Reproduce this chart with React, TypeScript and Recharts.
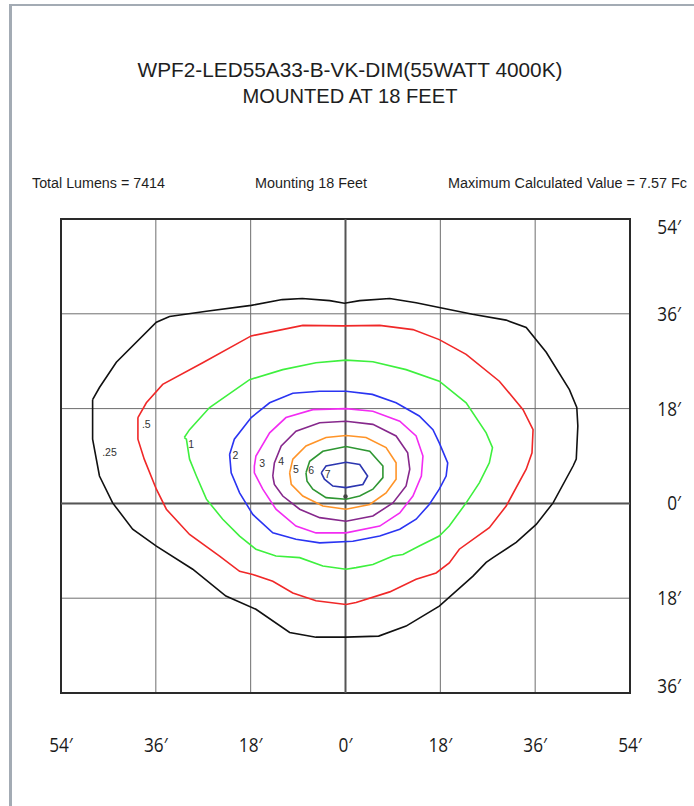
import React from "react";
import {
  ScatterChart,
  Scatter,
  XAxis,
  YAxis,
  CartesianGrid,
  ReferenceLine,
  ReferenceArea,
} from "recharts";

type Pt = { x: number; y: number };

const xTicks = [-54, -36, -18, 0, 18, 36, 54];
const yTicks = [54, 36, 18, 0, -18, -36];

// isofootcandle contours, feet from the luminaire
const fc025: Pt[] = [
  { x: -48.0, y: 19.7 }, { x: -46.7, y: 22.0 }, { x: -43.5, y: 26.8 }, { x: -35.9, y: 34.4 },
  { x: -33.4, y: 35.5 }, { x: -26.4, y: 36.5 }, { x: -17.9, y: 37.6 }, { x: -12.0, y: 38.7 },
  { x: -8.2, y: 38.9 }, { x: -3.0, y: 38.5 }, { x: -0.2, y: 38.0 }, { x: 2.7, y: 38.5 },
  { x: 8.4, y: 38.9 }, { x: 13.4, y: 38.1 }, { x: 17.8, y: 37.2 }, { x: 24.1, y: 35.9 },
  { x: 30.5, y: 34.8 }, { x: 34.3, y: 33.4 }, { x: 38.1, y: 28.7 }, { x: 42.5, y: 21.6 },
  { x: 43.9, y: 18.2 }, { x: 44.1, y: 14.7 }, { x: 43.8, y: 8.4 }, { x: 43.2, y: 7.1 },
  { x: 39.4, y: 0.1 }, { x: 36.2, y: -4.0 }, { x: 32.4, y: -7.4 }, { x: 28.0, y: -10.3 },
  { x: 26.7, y: -11.2 }, { x: 24.2, y: -13.8 }, { x: 17.8, y: -19.5 }, { x: 11.5, y: -23.3 },
  { x: 6.3, y: -25.2 }, { x: 0.1, y: -25.4 }, { x: -5.6, y: -25.4 }, { x: -10.6, y: -24.5 },
  { x: -17.0, y: -20.1 }, { x: -22.7, y: -17.6 }, { x: -29.0, y: -12.5 }, { x: -35.9, y: -8.1 },
  { x: -40.4, y: -4.9 }, { x: -44.2, y: 0.1 }, { x: -46.7, y: 5.2 }, { x: -48.0, y: 12.2 },
];

const fc05: Pt[] = [
  { x: -39.4, y: 16.3 }, { x: -37.8, y: 19.1 }, { x: -34.7, y: 22.6 }, { x: -27.1, y: 26.7 },
  { x: -17.9, y: 31.8 }, { x: -8.1, y: 33.8 }, { x: -0.5, y: 33.7 }, { x: 6.5, y: 33.8 },
  { x: 12.8, y: 33.0 }, { x: 17.8, y: 31.1 }, { x: 22.9, y: 28.3 }, { x: 29.2, y: 23.2 },
  { x: 33.7, y: 17.8 }, { x: 35.6, y: 14.0 }, { x: 35.4, y: 9.6 }, { x: 34.3, y: 6.5 },
  { x: 30.5, y: -0.5 }, { x: 27.3, y: -4.6 }, { x: 21.6, y: -8.7 }, { x: 19.7, y: -11.3 },
  { x: 17.2, y: -13.2 }, { x: 13.4, y: -14.4 }, { x: 8.4, y: -16.8 }, { x: 2.0, y: -18.8 },
  { x: 0.1, y: -19.2 }, { x: -5.6, y: -18.5 }, { x: -10.0, y: -17.0 }, { x: -13.8, y: -14.8 },
  { x: -17.6, y: -13.5 }, { x: -20.1, y: -12.9 }, { x: -23.9, y: -10.0 }, { x: -29.6, y: -5.9 },
  { x: -34.0, y: -1.1 }, { x: -35.9, y: 2.7 }, { x: -38.2, y: 8.4 }, { x: -39.4, y: 12.2 },
];

const fc1: Pt[] = [
  { x: -30.6, y: 12.5 }, { x: -29.6, y: 14.0 }, { x: -25.8, y: 18.2 }, { x: -18.2, y: 23.5 },
  { x: -11.9, y: 25.4 }, { x: -5.6, y: 26.7 }, { x: 0.1, y: 27.2 }, { x: 5.2, y: 26.9 },
  { x: 11.5, y: 25.4 }, { x: 17.8, y: 23.2 }, { x: 22.9, y: 19.1 }, { x: 26.7, y: 13.4 },
  { x: 27.9, y: 10.6 }, { x: 27.3, y: 7.7 }, { x: 25.4, y: 3.9 }, { x: 22.9, y: 0.1 },
  { x: 19.7, y: -4.3 }, { x: 17.8, y: -6.2 }, { x: 14.0, y: -8.1 }, { x: 10.9, y: -9.7 },
  { x: 9.0, y: -10.0 }, { x: 5.2, y: -11.6 }, { x: 2.0, y: -12.2 }, { x: 0.1, y: -12.5 },
  { x: -4.3, y: -11.9 }, { x: -8.7, y: -10.3 }, { x: -13.2, y: -10.0 }, { x: -17.0, y: -8.7 },
  { x: -20.1, y: -6.2 }, { x: -23.3, y: -3.0 }, { x: -26.4, y: 0.8 }, { x: -28.3, y: 5.2 },
  { x: -29.6, y: 8.4 }, { x: -30.2, y: 12.2 },
];

const fc2: Pt[] = [
  { x: -22.0, y: 9.3 }, { x: -21.1, y: 12.2 }, { x: -17.9, y: 16.3 }, { x: -14.4, y: 19.1 },
  { x: -10.0, y: 20.9 }, { x: -4.9, y: 21.3 }, { x: 0.1, y: 21.3 }, { x: 5.1, y: 20.7 },
  { x: 9.6, y: 19.1 }, { x: 14.0, y: 16.6 }, { x: 16.6, y: 14.0 }, { x: 17.8, y: 11.5 },
  { x: 19.4, y: 7.7 }, { x: 19.1, y: 5.2 }, { x: 17.8, y: 2.7 }, { x: 15.9, y: -0.2 },
  { x: 13.4, y: -3.0 }, { x: 10.3, y: -4.9 }, { x: 6.5, y: -6.2 }, { x: 1.4, y: -7.2 },
  { x: -4.9, y: -7.5 }, { x: -9.4, y: -6.8 }, { x: -13.8, y: -5.6 }, { x: -17.6, y: -2.1 },
  { x: -20.1, y: 2.0 }, { x: -21.7, y: 5.8 },
];

const fc3: Pt[] = [
  { x: -17.3, y: 7.1 }, { x: -17.0, y: 9.0 }, { x: -14.4, y: 13.4 }, { x: -11.3, y: 16.3 },
  { x: -6.2, y: 17.8 }, { x: 0.1, y: 18.0 }, { x: 5.2, y: 17.5 }, { x: 10.3, y: 15.6 },
  { x: 13.4, y: 12.8 }, { x: 14.7, y: 9.0 }, { x: 14.4, y: 5.2 }, { x: 12.8, y: 1.4 },
  { x: 10.3, y: -1.8 }, { x: 6.5, y: -4.3 }, { x: 0.1, y: -5.6 }, { x: -5.6, y: -5.6 },
  { x: -9.4, y: -4.3 }, { x: -13.2, y: -1.1 }, { x: -15.7, y: 2.7 }, { x: -17.3, y: 5.8 },
];

const fc4: Pt[] = [
  { x: -13.8, y: 5.2 }, { x: -13.5, y: 7.7 }, { x: -12.2, y: 10.9 }, { x: -9.4, y: 13.7 },
  { x: -4.9, y: 15.3 }, { x: 0.1, y: 15.6 }, { x: 5.2, y: 15.0 }, { x: 9.6, y: 12.8 },
  { x: 11.8, y: 9.6 }, { x: 12.2, y: 6.5 }, { x: 11.5, y: 3.3 }, { x: 9.0, y: 0.1 },
  { x: 5.2, y: -2.4 }, { x: 0.1, y: -3.4 }, { x: -4.9, y: -2.7 }, { x: -8.7, y: -1.1 },
  { x: -11.9, y: 1.4 }, { x: -13.5, y: 3.6 },
];

const fc5: Pt[] = [
  { x: -10.6, y: 5.8 }, { x: -10.0, y: 8.4 }, { x: -7.5, y: 10.9 }, { x: -3.7, y: 12.5 },
  { x: 0.1, y: 12.9 }, { x: 3.9, y: 12.5 }, { x: 7.7, y: 10.6 }, { x: 9.6, y: 7.7 },
  { x: 9.6, y: 4.6 }, { x: 7.7, y: 2.0 }, { x: 4.6, y: -0.2 }, { x: 0.1, y: -1.1 },
  { x: -4.3, y: -0.5 }, { x: -8.1, y: 1.4 }, { x: -10.3, y: 3.6 },
];

const fc6: Pt[] = [
  { x: -7.5, y: 5.8 }, { x: -6.8, y: 8.0 }, { x: -4.3, y: 9.9 }, { x: 0.1, y: 10.8 },
  { x: 4.6, y: 9.9 }, { x: 7.1, y: 7.1 }, { x: 7.1, y: 4.9 }, { x: 5.2, y: 2.7 },
  { x: 2.7, y: 1.4 }, { x: 0.1, y: 0.8 }, { x: -3.7, y: 1.1 }, { x: -6.2, y: 2.7 },
  { x: -7.3, y: 4.2 },
];

const fc7: Pt[] = [
  { x: -4.6, y: 5.8 }, { x: -3.7, y: 7.1 }, { x: 0.1, y: 7.8 }, { x: 2.7, y: 7.4 },
  { x: 4.2, y: 5.2 }, { x: 3.3, y: 3.6 }, { x: 0.1, y: 3.0 }, { x: -2.4, y: 3.3 },
  { x: -4.0, y: 4.6 },
];

const levelLabels = [
  { x: -44.8, y: 9.7, label: ".25" },
  { x: -37.8, y: 15.0, label: ".5" },
  { x: -29.3, y: 11.2, label: "1" },
  { x: -20.9, y: 9.1, label: "2" },
  { x: -15.8, y: 7.6, label: "3" },
  { x: -12.2, y: 8.0, label: "4" },
  { x: -9.4, y: 6.5, label: "5" },
  { x: -6.5, y: 6.3, label: "6" },
  { x: -3.4, y: 5.5, label: "7" },
];

const fixture = [{ x: 0, y: 1.3 }];

const contours = [
  { name: ".25", color: "#111111", data: fc025 },
  { name: ".5", color: "#f02828", data: fc05 },
  { name: "1", color: "#3ef03e", data: fc1 },
  { name: "2", color: "#2a34f2", data: fc2 },
  { name: "3", color: "#f22cf2", data: fc3 },
  { name: "4", color: "#86288c", data: fc4 },
  { name: "5", color: "#ff9428", data: fc5 },
  { name: "6", color: "#2e9632", data: fc6 },
  { name: "7", color: "#2c36b0", data: fc7 },
];

const titleFont = "'Open Sans', 'Noto Sans', sans-serif";
const plainFont = "'Liberation Sans', Arial, sans-serif";

const XTick = (props: any) => {
  const { x, y, payload } = props;
  return (
    <text x={x} y={y + 51} textAnchor="middle" fontSize={20} fontFamily={titleFont} fill="#1a1a1a" transform={`translate(${x} 0) scale(0.86 1) translate(${-x} 0)`}>
      {Math.abs(payload.value)}′
    </text>
  );
};

const YTick = (props: any) => {
  const { x, y, payload } = props;
  const cy = Math.min(Math.max(y, 227), 686);
  const ex = x + 43;
  return (
    <text x={ex} y={cy + 7} textAnchor="end" fontSize={20} fontFamily={titleFont} fill="#1a1a1a" transform={`translate(${ex} 0) scale(0.86 1) translate(${-ex} 0)`}>
      {Math.abs(payload.value)}′
    </text>
  );
};

const noDot = () => <g />;

const LevelText = (props: any) => (
  <text x={props.cx} y={props.cy + 4} textAnchor="middle" fontSize={10.5} fontFamily={plainFont} fill="#333">
    {props.payload.label}
  </text>
);

const FixtureDot = (props: any) => <circle cx={props.cx} cy={props.cy} r={2.2} fill="#444" />;

export default function App() {
  return (
    <div style={{ position: "absolute", left: 0, top: 0, width: 694, height: 806, background: "#fff" }}>
      <div
        style={{
          position: "absolute",
          left: 9,
          top: 4,
          width: 690,
          height: 810,
          borderTop: "2px solid #a3abb4",
          borderLeft: "3px solid #a3abb4",
        }}
      />
      <ScatterChart
        width={694}
        height={806}
        margin={{ top: 219, right: 0, bottom: 0, left: 61 }}
        style={{ position: "absolute", left: 0, top: 0 }}
      >
        <CartesianGrid stroke="#6e6e6e" strokeWidth={1} />
        <XAxis
          type="number"
          dataKey="x"
          domain={[-54, 54]}
          ticks={xTicks}
          height={113}
          axisLine={false}
          tickLine={false}
          tick={<XTick />}
          allowDataOverflow
        />
        <YAxis
          type="number"
          dataKey="y"
          orientation="right"
          domain={[-36, 54]}
          ticks={yTicks}
          width={64}
          axisLine={false}
          tickLine={false}
          tick={<YTick />}
          allowDataOverflow
        />
        <ReferenceLine x={0} stroke="#555" strokeWidth={2} />
        <ReferenceLine y={0} stroke="#555" strokeWidth={2} />
        <ReferenceArea x1={-54} x2={54} y1={-36} y2={54} fill="none" stroke="#2a2a2a" strokeWidth={2} />
        {contours.map((c) => (
          <Scatter
            key={c.name}
            name={c.name}
            data={[...c.data, c.data[0]]}
            line={{ stroke: c.color, strokeWidth: 1.6 }}
            shape={noDot}
            isAnimationActive={false}
          />
        ))}
        <Scatter data={levelLabels} shape={<LevelText />} isAnimationActive={false} />
        <Scatter data={fixture} shape={<FixtureDot />} isAnimationActive={false} />
      </ScatterChart>
      <svg
        width={694}
        height={806}
        style={{ position: "absolute", left: 0, top: 0, pointerEvents: "none" }}
      >
        <g fontFamily={plainFont} fontSize={21} fill="#1e1e1e">
          <text x={350} y={77} textAnchor="middle" textLength={425} lengthAdjust="spacingAndGlyphs">
            WPF2-LED55A33-B-VK-DIM(55WATT 4000K)
          </text>
          <text x={350} y={103} textAnchor="middle" textLength={215} lengthAdjust="spacingAndGlyphs">
            MOUNTED AT 18 FEET
          </text>
        </g>
        <g fontFamily={plainFont} fontSize={14} fill="#1e1e1e">
          <text x={32} y={188} textLength={133} lengthAdjust="spacingAndGlyphs">
            Total Lumens = 7414
          </text>
          <text x={255} y={188} textLength={112} lengthAdjust="spacingAndGlyphs">
            Mounting 18 Feet
          </text>
          <text x={448} y={188} textLength={239} lengthAdjust="spacingAndGlyphs">
            Maximum Calculated Value = 7.57 Fc
          </text>
        </g>
      </svg>
    </div>
  );
}
